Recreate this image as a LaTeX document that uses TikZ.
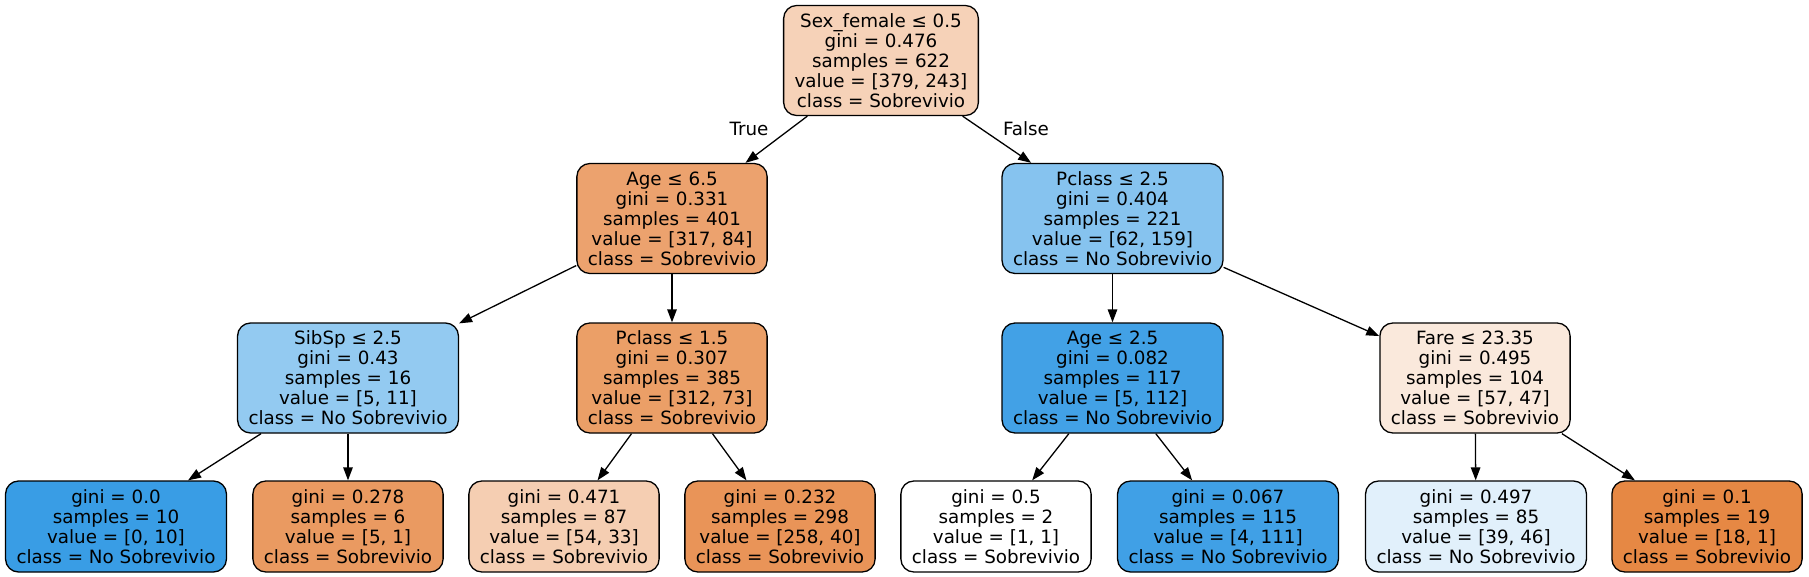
\documentclass[tikz,border=0pt]{standalone}
\usepackage{fontspec}
\setmainfont{DejaVu Sans}
\usetikzlibrary{arrows.meta}
\definecolor{cRoot}{RGB}{246,210,184}
\definecolor{cA}{RGB}{236,162,110}
\definecolor{cB}{RGB}{134,195,239}
\definecolor{cC}{RGB}{147,202,241}
\definecolor{cD}{RGB}{235,159,103}
\definecolor{cE}{RGB}{66,161,230}
\definecolor{cF}{RGB}{250,233,220}
\definecolor{cL1}{RGB}{57,157,229}
\definecolor{cL2}{RGB}{234,154,97}
\definecolor{cL3}{RGB}{245,206,178}
\definecolor{cL4}{RGB}{233,148,88}
\definecolor{cL5}{RGB}{255,255,255}
\definecolor{cL6}{RGB}{64,160,230}
\definecolor{cL7}{RGB}{225,240,251}
\definecolor{cL8}{RGB}{230,136,68}
\begin{document}
\begin{tikzpicture}[x=1pt,y=-1pt,
  nd/.style={draw=black,line width=1.3pt,rounded corners=13pt,inner xsep=11pt,inner ysep=0pt,align=center,
    font=\fontsize{18.3pt}{20pt}\selectfont},
  five/.style={nd,minimum height=110pt},
  four/.style={nd,minimum height=91pt},
  edge/.style={line width=1.3pt,-{Triangle[length=13pt,width=9.5pt]}},
  elab/.style={font=\fontsize{18.3pt}{20pt}\selectfont,inner sep=0pt}]
\useasboundingbox (0,0) rectangle (1809,577);
\node[five,fill=cRoot] (root) at (881,60.5) {Sex\_female ≤ 0.5\\gini = 0.476\\samples = 622\\value = [379, 243]\\class = Sobrevivio};
\node[five,fill=cA] (n1) at (672,218.5) {Age ≤ 6.5\\gini = 0.331\\samples = 401\\value = [317, 84]\\class = Sobrevivio};
\node[five,fill=cB] (n2) at (1112.5,218.5) {Pclass ≤ 2.5\\gini = 0.404\\samples = 221\\value = [62, 159]\\class = No Sobrevivio};
\node[five,fill=cC] (n3) at (348,378) {SibSp ≤ 2.5\\gini = 0.43\\samples = 16\\value = [5, 11]\\class = No Sobrevivio};
\node[five,fill=cD] (n4) at (672,378) {Pclass ≤ 1.5\\gini = 0.307\\samples = 385\\value = [312, 73]\\class = Sobrevivio};
\node[five,fill=cE] (n5) at (1112.5,378) {Age ≤ 2.5\\gini = 0.082\\samples = 117\\value = [5, 112]\\class = No Sobrevivio};
\node[five,fill=cF] (n6) at (1475,378) {Fare ≤ 23.35\\gini = 0.495\\samples = 104\\value = [57, 47]\\class = Sobrevivio};
\node[four,fill=cL1] (l1) at (116,526.5) {gini = 0.0\\samples = 10\\value = [0, 10]\\class = No Sobrevivio};
\node[four,fill=cL2] (l2) at (348,526.5) {gini = 0.278\\samples = 6\\value = [5, 1]\\class = Sobrevivio};
\node[four,fill=cL3] (l3) at (564,526.5) {gini = 0.471\\samples = 87\\value = [54, 33]\\class = Sobrevivio};
\node[four,fill=cL4] (l4) at (780,526.5) {gini = 0.232\\samples = 298\\value = [258, 40]\\class = Sobrevivio};
\node[four,fill=cL5] (l5) at (996,526.5) {gini = 0.5\\samples = 2\\value = [1, 1]\\class = Sobrevivio};
\node[four,fill=cL6] (l6) at (1228,526.5) {gini = 0.067\\samples = 115\\value = [4, 111]\\class = No Sobrevivio};
\node[four,fill=cL7] (l7) at (1476,526.5) {gini = 0.497\\samples = 85\\value = [39, 46]\\class = No Sobrevivio};
\node[four,fill=cL8] (l8) at (1707,526.5) {gini = 0.1\\samples = 19\\value = [18, 1]\\class = Sobrevivio};
\draw[edge] (root) -- (n1);
\draw[edge] (root) -- (n2);
\draw[edge] (n1) -- (n3);
\draw[edge] (n1) -- (n4);
\draw[edge] (n2) -- (n5);
\draw[edge] (n2) -- (n6);
\draw[edge] (n3) -- (l1);
\draw[edge] (n3) -- (l2);
\draw[edge] (n4) -- (l3);
\draw[edge] (n4) -- (l4);
\draw[edge] (n5) -- (l5);
\draw[edge] (n5) -- (l6);
\draw[edge] (n6) -- (l7);
\draw[edge] (n6) -- (l8);
\node[elab] (tlab) at (749,129) {True};
\node[elab] (flab) at (1026,129) {False};
\end{tikzpicture}
\end{document}
